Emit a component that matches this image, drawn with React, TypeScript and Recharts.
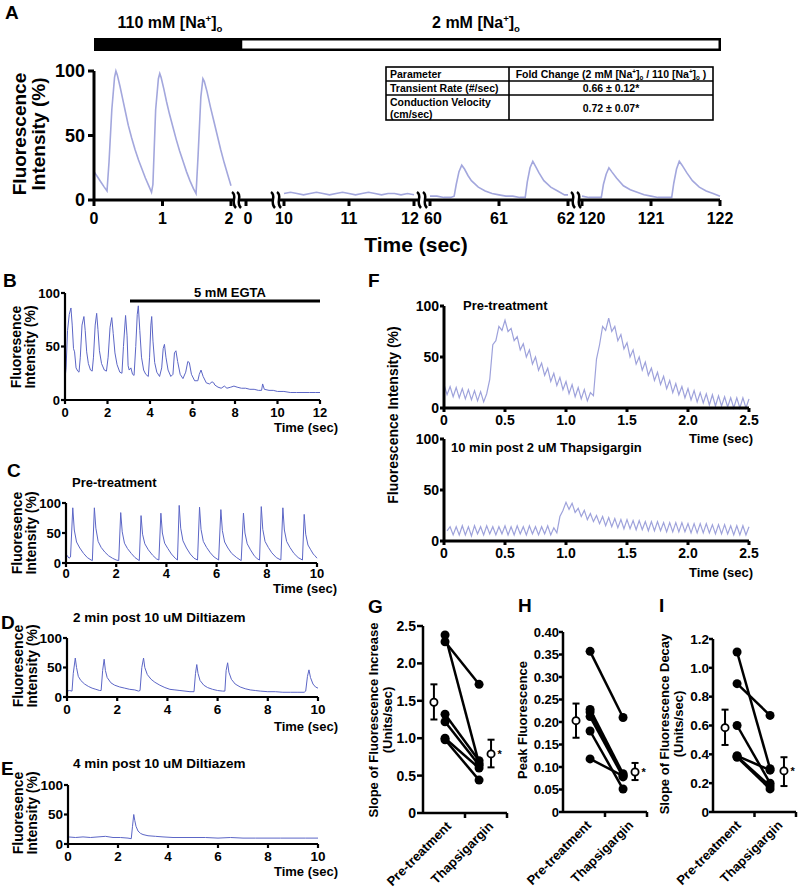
import React from "react"
import {
  LineChart,
  Line,
  XAxis,
  YAxis,
  ComposedChart,
  Scatter,
  ErrorBar,
  LabelList,
} from "recharts"

const W = 800
const H = 889
const FONT = "'Liberation Sans', Arial, Helvetica, sans-serif"
const TRACE_A = "#a3a7dd"
const TRACE_F = "#9ea2db"
const TRACE = "#5c66c6"

type Pt = [number, number]

// ---- panel A: [time (s), fluorescence %] per recording window
const aSeg0: Pt[] = [
  [0, 22], [0.05, 18], [0.1, 14], [0.15, 10], [0.19, 7], [0.22, 30], [0.26, 70], [0.3, 95],
  [0.32, 100], [0.34, 97], [0.38, 88], [0.42, 78], [0.46, 68], [0.5, 58], [0.55, 48], [0.6, 39],
  [0.65, 31], [0.7, 24], [0.75, 17], [0.8, 11], [0.84, 6], [0.86, 12], [0.9, 70], [0.94, 94],
  [0.96, 98], [0.98, 95], [1.02, 86], [1.06, 76], [1.1, 67], [1.15, 57], [1.2, 47], [1.25, 38],
  [1.3, 30], [1.35, 22], [1.4, 15], [1.45, 9], [1.49, 5], [1.52, 35], [1.56, 80], [1.59, 94],
  [1.61, 92], [1.65, 84], [1.7, 72], [1.75, 61], [1.8, 50], [1.85, 39], [1.9, 29], [1.95, 20], [2, 11],
]
const aSeg1: Pt[] = [
  [10, 5], [10.1, 6], [10.2, 5], [10.3, 4], [10.4, 5], [10.5, 6], [10.6, 5], [10.7, 4], [10.8, 5],
  [10.9, 6], [11, 5], [11.1, 4], [11.2, 5], [11.3, 6], [11.4, 5], [11.5, 4], [11.6, 5], [11.7, 5],
  [11.8, 4], [11.9, 5], [12, 4],
]
const aSeg2: Pt[] = [
  [60, 3], [60.1, 3], [60.2, 2], [60.3, 2], [60.35, 3], [60.38, 12], [60.42, 22], [60.46, 27],
  [60.5, 24], [60.55, 19], [60.6, 15], [60.7, 10], [60.8, 7], [60.9, 5], [61, 4], [61.1, 3],
  [61.2, 3], [61.3, 2], [61.38, 2], [61.41, 14], [61.45, 25], [61.49, 30], [61.53, 26], [61.58, 21],
  [61.65, 15], [61.75, 10], [61.85, 7], [61.95, 4], [62, 4],
]
const aSeg3: Pt[] = [
  [120, 3], [120.1, 2], [120.2, 2], [120.28, 2], [120.31, 12], [120.35, 20], [120.39, 25], [120.43, 22],
  [120.5, 17], [120.6, 11], [120.7, 8], [120.8, 6], [120.9, 4], [121, 3], [121.1, 2], [121.2, 2],
  [121.3, 2], [121.33, 13], [121.37, 24], [121.41, 30], [121.45, 27], [121.52, 21], [121.6, 15],
  [121.7, 10], [121.8, 7], [121.9, 5], [122, 3],
]
const aTickLabels = [0, 1, 2, 0, 10, 11, 12, 60, 61, 62, 120, 121, 122]
const aTickSeg = [0, 0, 0, -1, 1, 1, 1, 2, 2, 2, 3, 3, 3]

// ---- panel B (EGTA)
const bTrace: Pt[] = [
  [0, 20], [0.05, 30], [0.12, 65], [0.2, 80], [0.28, 86], [0.34, 70], [0.4, 48], [0.45, 45], [0.52, 30],
  [0.6, 27], [0.66, 26], [0.72, 40], [0.8, 70], [0.89, 78], [0.95, 65], [1.02, 45], [1.1, 34], [1.2, 28],
  [1.28, 27], [1.34, 40], [1.42, 70], [1.49, 81], [1.55, 66], [1.62, 46], [1.72, 34], [1.85, 28],
  [1.95, 27], [2.03, 40], [2.12, 68], [2.2, 77], [2.27, 62], [2.35, 44], [2.45, 33], [2.58, 26],
  [2.68, 25], [2.75, 50], [2.85, 79], [2.92, 60], [2.97, 32], [3.02, 28], [3.1, 30], [3.18, 24],
  [3.25, 23], [3.33, 50], [3.4, 80], [3.45, 88], [3.52, 65], [3.6, 40], [3.7, 28], [3.8, 24],
  [3.92, 22], [3.98, 40], [4.04, 70], [4.08, 78], [4.14, 55], [4.22, 35], [4.32, 26], [4.45, 22],
  [4.55, 30], [4.62, 48], [4.68, 52], [4.75, 40], [4.85, 28], [4.98, 22], [5.08, 24], [5.15, 44],
  [5.22, 46], [5.3, 36], [5.42, 24], [5.55, 20], [5.68, 26], [5.78, 36], [5.85, 35], [5.95, 24],
  [6.1, 18], [6.25, 18], [6.32, 24], [6.4, 28], [6.5, 22], [6.65, 16], [6.8, 15], [6.92, 17],
  [7, 16], [7.05, 14], [7.2, 12], [7.35, 11], [7.5, 13], [7.62, 11], [7.8, 12], [7.95, 13],
  [8.1, 12], [8.3, 11], [8.5, 11], [8.7, 10], [8.9, 10], [9.1, 9], [9.25, 9], [9.3, 15], [9.38, 10],
  [9.6, 9], [9.8, 9], [10, 8], [10.3, 8], [10.6, 7], [10.9, 7], [11.2, 7], [11.5, 7], [11.8, 7], [12, 7],
]

// ---- panel C (pre-treatment)
const cTrace: Pt[] = [
  [0, 15], [0.05, 12], [0.12, 8], [0.18, 10], [0.27, 92], [0.33, 55], [0.42, 35], [0.55, 25], [0.7, 16],
  [0.85, 9], [1, 5], [1.05, 4], [1.13, 92], [1.19, 58], [1.28, 36], [1.4, 26], [1.55, 18], [1.7, 12],
  [1.85, 8], [2, 5], [2.1, 4], [2.18, 84], [2.24, 52], [2.33, 33], [2.45, 24], [2.6, 16], [2.75, 9],
  [2.92, 4], [2.99, 79], [3.05, 48], [3.14, 32], [3.28, 22], [3.45, 13], [3.6, 7], [3.7, 5],
  [3.78, 83], [3.84, 50], [3.93, 33], [4.06, 24], [4.2, 15], [4.35, 8], [4.44, 5], [4.51, 96],
  [4.57, 58], [4.66, 37], [4.8, 25], [4.95, 15], [5.1, 8], [5.24, 5], [5.32, 93], [5.38, 56],
  [5.47, 36], [5.6, 26], [5.75, 17], [5.9, 10], [6.08, 5], [6.17, 89], [6.23, 54], [6.32, 35],
  [6.45, 25], [6.6, 16], [6.8, 9], [6.98, 4], [7.07, 83], [7.13, 50], [7.22, 32], [7.35, 22],
  [7.5, 12], [7.62, 7], [7.71, 5], [7.78, 94], [7.84, 56], [7.93, 36], [8.06, 26], [8.2, 17],
  [8.38, 9], [8.56, 5], [8.64, 92], [8.7, 55], [8.79, 36], [8.92, 26], [9.08, 16], [9.25, 9],
  [9.42, 5], [9.49, 81], [9.55, 48], [9.64, 30], [9.75, 22], [9.85, 15], [9.92, 12], [10, 8],
]

// ---- panel D (2 min diltiazem)
const dTrace: Pt[] = [
  [0, 10], [0.1, 11], [0.2, 10], [0.25, 40], [0.33, 66], [0.38, 50], [0.45, 35], [0.55, 28], [0.7, 22],
  [0.85, 18], [1, 15], [1.15, 13], [1.3, 11], [1.36, 11], [1.42, 45], [1.48, 64], [1.53, 45], [1.6, 33],
  [1.75, 24], [1.9, 20], [2.1, 17], [2.3, 15], [2.5, 13], [2.7, 12], [2.85, 10], [2.91, 11], [2.98, 50],
  [3.05, 66], [3.1, 50], [3.2, 38], [3.35, 30], [3.5, 25], [3.7, 20], [3.9, 16], [4.1, 13], [4.3, 12],
  [4.5, 11], [4.7, 10], [4.9, 9], [5.06, 9], [5.12, 40], [5.17, 55], [5.22, 40], [5.3, 28], [5.45, 20],
  [5.6, 16], [5.8, 13], [6, 11], [6.2, 10], [6.29, 10], [6.34, 45], [6.4, 58], [6.45, 42], [6.55, 30],
  [6.7, 22], [6.9, 17], [7.1, 14], [7.3, 12], [7.5, 11], [7.7, 10], [8, 9], [8.3, 9], [8.6, 8],
  [8.9, 8], [9.2, 8], [9.45, 8], [9.51, 10], [9.58, 35], [9.64, 46], [9.7, 33], [9.8, 22], [9.9, 17], [10, 15],
]

// ---- panel E (4 min diltiazem)
const eTrace: Pt[] = [
  [0, 12], [0.3, 11], [0.6, 12], [0.9, 11], [1.2, 12], [1.5, 13], [1.8, 11], [2.1, 11], [2.4, 10],
  [2.53, 9], [2.58, 30], [2.63, 50], [2.67, 40], [2.72, 30], [2.8, 22], [2.9, 18], [3, 16], [3.2, 14],
  [3.5, 13], [3.8, 12], [4.2, 11], [4.6, 11], [5, 11], [5.5, 11], [6, 10], [6.5, 11], [7, 10],
  [7.5, 10], [8, 10], [8.5, 10], [9, 10], [9.5, 10], [10, 10],
]

// ---- panel F, sampled every 25 ms
const fStep = 0.025
const fPreStart = 0
const fPre = [
  23, 13, 21, 11, 20, 10, 19, 9, 18, 8, 17, 7, 16, 6, 14, 28, 62, 66, 80, 76, 86, 75, 78, 66, 70, 57,
  63, 50, 57, 43, 50, 37, 44, 32, 39, 26, 34, 22, 30, 18, 26, 14, 23, 11, 20, 9, 18, 7, 15, 12, 48,
  62, 80, 76, 88, 75, 80, 66, 72, 58, 64, 50, 57, 43, 50, 37, 45, 32, 39, 27, 35, 23, 31, 19, 27,
  15, 24, 13, 21, 10, 19, 8, 17, 6, 15, 5, 14, 3, 13, 2, 12, 2, 11, 1, 10, 0, 10, 0, 10, 0, 9,
]
const fThapStart = 0.025
const fThap = [
  10, 14, 6, 14, 6, 15, 6, 14, 5, 15, 7, 14, 6, 15, 7, 14, 6, 14, 7, 15, 6, 14, 6, 15, 7, 14, 6, 15,
  7, 14, 6, 14, 7, 15, 6, 13, 8, 24, 30, 38, 31, 37, 28, 32, 24, 30, 21, 27, 19, 25, 17, 24, 15, 23,
  14, 22, 13, 21, 12, 21, 12, 20, 11, 20, 11, 19, 10, 19, 10, 19, 10, 18, 9, 18, 9, 18, 9, 18, 9, 17,
  8, 17, 8, 17, 8, 17, 8, 16, 7, 16, 7, 16, 7, 15, 6, 15, 6, 15, 6, 14,
]

// ---- panels G, H, I (paired pre-treatment / thapsigargin)
const catLabels = ["Pre-treatment", "Thapsigargin"]
const gPre = [2.38, 2.29, 1.32, 1.22, 1.0, 0.98]
const gThap = [0.66, 1.72, 0.7, 0.64, 0.6, 0.44]
const gMean = [1.48, 0.79]
const gLow = [1.25, 0.61]
const gHigh = [1.72, 0.98]

const hPre = [0.357, 0.228, 0.222, 0.212, 0.18, 0.118]
const hThap = [0.21, 0.085, 0.082, 0.078, 0.051, 0.08]
const hMean = [0.203, 0.089]
const hLow = [0.165, 0.071]
const hHigh = [0.241, 0.109]

const iPre = [1.11, 0.89, 0.6, 0.39, 0.385, 0.38]
const iThap = [0.3, 0.67, 0.2, 0.29, 0.18, 0.16]
const iMean = [0.585, 0.285]
const iLow = [0.465, 0.18]
const iHigh = [0.71, 0.38]

// ---------------------------------------------------------------------------

// plot rectangle -> chart margin (axes take 1px)
const mg = (l: number, t: number, r: number, b: number) => ({
  left: l - 1,
  top: t,
  right: W - r,
  bottom: H - b - 1,
})
const tickStyle = (s: number) => ({ fontSize: s, fontWeight: 700, fill: "#000", fontFamily: FONT })
const stroke = (w: number) => ({ stroke: "#000", strokeWidth: w })

function Frame({ children }: { children: React.ReactNode }) {
  return <div style={{ position: "absolute", left: 0, top: 0 }}>{children}</div>
}

const rows = (pts: Pt[]) => pts.map(([t, v]) => ({ x: t, v }))
const sampled = (vals: number[], start: number) =>
  vals.map((v, i) => ({ x: +(start + i * fStep).toFixed(3), v }))

// A: each window is squeezed onto its own stretch of the broken axis
const aMap = [
  { t0: 0, p0: 0, k: 68.5 },
  { t0: 10, p0: 190, k: 65 },
  { t0: 60, p0: 336, k: 69 },
  { t0: 120, p0: 488, k: 69 },
]
const aPos = (seg: number, t: number) => (seg < 0 ? 152 : aMap[seg].p0 + (t - aMap[seg].t0) * aMap[seg].k)
const aTicks = aTickLabels.map((t, i) => aPos(aTickSeg[i], t))
const aDx: Record<number, number> = { 2: -2, 3: 2, 6: -4, 7: 3, 9: -2, 10: 10 }

function ATick(props: any) {
  const { x, y, payload } = props
  const i = aTicks.findIndex((p) => Math.abs(p - payload.value) < 0.01)
  return (
    <text x={x + (aDx[i] || 0)} y={y} dy="0.71em" textAnchor="middle" {...tickStyle(16)}>
      {aTickLabels[i]}
    </text>
  )
}

function PanelA() {
  const segs = [aSeg0, aSeg1, aSeg2, aSeg3]
  return (
    <Frame>
      <LineChart width={W} height={H} margin={mg(94, 71, 720, 200)}>
        <XAxis
          type="number"
          dataKey="x"
          domain={[0, 626]}
          ticks={aTicks}
          interval={0}
          height={1}
          tick={<ATick />}
          axisLine={stroke(3)}
          tickLine={stroke(3)}
          tickSize={6}
          tickMargin={7}
        />
        <YAxis
          type="number"
          domain={[0, 100]}
          ticks={[0, 50, 100]}
          interval={0}
          width={1}
          tick={tickStyle(18)}
          axisLine={stroke(3)}
          tickLine={stroke(3)}
          tickSize={6}
          tickMargin={3}
        />
        {segs.map((s, i) => (
          <Line
            key={i}
            data={s.map(([t, v]) => ({ x: aPos(i, t), v }))}
            dataKey="v"
            stroke={TRACE_A}
            strokeWidth={1.6}
            dot={false}
            isAnimationActive={false}
          />
        ))}
      </LineChart>
    </Frame>
  )
}

type TraceProps = {
  rect: [number, number, number, number]
  data: { x: number; v: number }[]
  xMax: number
  xTicks: number[]
  fmt?: (v: number) => string
  color: string
  sw: number
  fs: number
  aw: number
  gap: number
}

function TracePanel({ rect, data, xMax, xTicks, fmt, color, sw, fs, aw, gap }: TraceProps) {
  return (
    <Frame>
      <LineChart width={W} height={H} margin={mg(...rect)}>
        <XAxis
          type="number"
          dataKey="x"
          domain={[0, xMax]}
          ticks={xTicks}
          interval={0}
          height={1}
          tick={tickStyle(fs)}
          tickFormatter={fmt}
          axisLine={stroke(aw)}
          tickLine={stroke(aw)}
          tickSize={4}
          tickMargin={gap}
        />
        <YAxis
          type="number"
          domain={[0, 100]}
          ticks={[0, 50, 100]}
          interval={0}
          width={1}
          tick={tickStyle(fs)}
          axisLine={stroke(aw)}
          tickLine={stroke(aw)}
          tickSize={4}
          tickMargin={1}
        />
        <Line data={data} dataKey="v" stroke={color} strokeWidth={sw} dot={false} isAnimationActive={false} />
      </LineChart>
    </Frame>
  )
}

function CatTick(props: any) {
  const { x, y, payload } = props
  const v = payload.value
  if (v === 2 || v === 4) return <line x1={x} y1={y} x2={x} y2={y + 5} {...stroke(2.5)} />
  const ax = x + 8
  const ay = y + 14
  return (
    <text x={ax} y={ay} textAnchor="end" transform={`rotate(-45 ${ax} ${ay})`} {...tickStyle(13)}>
      {catLabels[v === 1 ? 0 : 1]}
    </text>
  )
}

function OpenDot(p: any) {
  return <circle cx={p.cx} cy={p.cy} r={3.6} fill="#fff" stroke="#000" strokeWidth={1.8} />
}

type PairProps = {
  rect: [number, number, number, number]
  pre: number[]
  thap: number[]
  mean: number[]
  low: number[]
  high: number[]
  xs: { pre: number; thap: number; mean: number[] }
  yMax: number
  yTicks: number[]
  digits: number
  fs: number
  ts: number
  tm: number
}

function PairPanel({ rect, pre, thap, mean, low, high, xs, yMax, yTicks, digits, fs, ts, tm }: PairProps) {
  const means = mean.map((m, i) => ({
    x: xs.mean[i],
    y: m,
    err: [m - low[i], high[i] - m],
    star: i === 1 ? "*" : "",
  }))
  return (
    <Frame>
      <ComposedChart width={W} height={H} margin={mg(...rect)}>
        <XAxis
          type="number"
          dataKey="x"
          domain={[0, 4]}
          ticks={[1, 2, 3, 4]}
          interval={0}
          height={1}
          tick={<CatTick />}
          axisLine={stroke(2.5)}
          tickLine={false}
          tickSize={0}
          tickMargin={0}
        />
        <YAxis
          type="number"
          dataKey="y"
          domain={[0, yMax]}
          ticks={yTicks}
          interval={0}
          width={1}
          tick={tickStyle(fs)}
          tickFormatter={(v: number) => (v === 0 ? "0" : v.toFixed(digits))}
          axisLine={stroke(2.5)}
          tickLine={stroke(2.5)}
          tickSize={ts}
          tickMargin={tm}
        />
        {pre.map((p, i) => (
          <Line
            key={i}
            data={[
              { x: xs.pre, y: p },
              { x: xs.thap, y: thap[i] },
            ]}
            dataKey="y"
            stroke="#000"
            strokeWidth={2.5}
            dot={{ r: 4.5, fill: "#000", stroke: "#000", strokeWidth: 0 }}
            isAnimationActive={false}
          />
        ))}
        <Scatter data={means} dataKey="y" shape={<OpenDot />} isAnimationActive={false}>
          <ErrorBar dataKey="err" direction="y" width={3.5} stroke="#000" strokeWidth={2} />
          <LabelList dataKey="star" position="right" offset={2} style={{ fontSize: 11, fontWeight: 700, fill: "#000" }} />
        </Scatter>
      </ComposedChart>
    </Frame>
  )
}

function T({
  x,
  y,
  s = 13,
  a = "start",
  r,
  children,
}: {
  x: number
  y: number
  s?: number
  a?: "start" | "middle" | "end"
  r?: number
  children: React.ReactNode
}) {
  return (
    <text
      x={x}
      y={y}
      fontSize={s}
      fontWeight={700}
      textAnchor={a}
      fontFamily={FONT}
      fill="#000"
      transform={r ? `rotate(${r} ${x} ${y})` : undefined}
    >
      {children}
    </text>
  )
}

const Na = ({ s }: { s: number }) => (
  <>
    [Na
    <tspan dy={-s * 0.38} fontSize={s * 0.6}>+</tspan>
    <tspan dy={s * 0.38}>]</tspan>
    <tspan dy={s * 0.22} fontSize={s * 0.6}>o</tspan>
    <tspan dy={-s * 0.22}> </tspan>
  </>
)

function Squiggle({ cx, cy }: { cx: number; cy: number }) {
  return (
    <path
      d={`M ${cx - 2} ${cy - 8} C ${cx + 4} ${cy - 4}, ${cx - 4} ${cy + 2}, ${cx + 2} ${cy + 8}`}
      fill="none"
      stroke="#000"
      strokeWidth={2.5}
    />
  )
}

function Overlay() {
  const breaks = [
    [234, 239],
    [273, 279],
    [419, 425],
    [573, 579],
  ]
  return (
    <svg width={W} height={H} style={{ position: "absolute", left: 0, top: 0, pointerEvents: "none" }}>
      {/* A: sodium bar */}
      <rect x={94} y={38} width={147} height={13} fill="#000" />
      <rect x={241} y={39.25} width={478.75} height={10.5} fill="#fff" stroke="#000" strokeWidth={2.5} />
      <T x={170} y={28} s={16} a="middle">
        110 mM <Na s={16} />
      </T>
      <T x={476} y={28} s={16} a="middle">
        2 mM <Na s={16} />
      </T>
      {/* A: broken axis marks */}
      {breaks.map(([a, b], i) => (
        <g key={i}>
          <rect x={a + 1} y={197} width={b - a - 2} height={6} fill="#fff" />
          <Squiggle cx={a} cy={200} />
          <Squiggle cx={b} cy={200} />
        </g>
      ))}
      {/* A: table */}
      <g>
        <rect x={386} y={67} width={327} height={53} fill="#fff" stroke="#000" strokeWidth={1.6} />
        <line x1={386} y1={81} x2={713} y2={81} {...stroke(1.6)} />
        <line x1={386} y1={95} x2={713} y2={95} {...stroke(1.6)} />
        <line x1={509} y1={67} x2={509} y2={120} {...stroke(1.6)} />
        <T x={390} y={78} s={10.5}>Parameter</T>
        <T x={611} y={78} s={10.5} a="middle">
          Fold Change (2 mM <Na s={10.5} />/ 110 <Na s={10.5} />)
        </T>
        <T x={390} y={92} s={10.5}>Transient Rate (#/sec)</T>
        <T x={611} y={92} s={10.5} a="middle">0.66 ± 0.12*</T>
        <T x={390} y={106} s={10.5}>Conduction Velocity</T>
        <T x={390} y={118} s={10.5}>(cm/sec)</T>
        <T x={611} y={112} s={10.5} a="middle">0.72 ± 0.07*</T>
      </g>
      <T x={5} y={19} s={19}>A</T>
      <T x={26} y={134} s={19} a="middle" r={-90}>Fluorescence</T>
      <T x={45} y={134} s={19} a="middle" r={-90}>Intensity (%)</T>
      <T x={416} y={252} s={21} a="middle">Time (sec)</T>

      {/* B */}
      <T x={3} y={287} s={19}>B</T>
      <T x={21} y={347} s={14} a="middle" r={-90}>Fluoresence</T>
      <T x={35} y={347} s={14} a="middle" r={-90}>Intensity (%)</T>
      <T x={230} y={297} s={13} a="middle">5 mM EGTA</T>
      <line x1={130} y1={301} x2={320} y2={301} {...stroke(3)} />
      <T x={338} y={432} s={13} a="end">Time (sec)</T>

      {/* C */}
      <T x={7} y={477} s={19}>C</T>
      <T x={72} y={487} s={13}>Pre-treatment</T>
      <T x={22} y={533} s={14} a="middle" r={-90}>Fluoresence</T>
      <T x={36} y={533} s={14} a="middle" r={-90}>Intensity (%)</T>
      <T x={337} y={593} s={13} a="end">Time (sec)</T>

      {/* D */}
      <T x={1} y={629} s={19}>D</T>
      <T x={73} y={622} s={13.5}>2 min post 10 uM Diltiazem</T>
      <T x={23} y={666} s={14} a="middle" r={-90}>Fluoresence</T>
      <T x={37} y={666} s={14} a="middle" r={-90}>Intensity (%)</T>
      <T x={338} y={731} s={13} a="end">Time (sec)</T>

      {/* E */}
      <T x={1} y={775} s={19}>E</T>
      <T x={73} y={768} s={13.5}>4 min post 10 uM Diltiazem</T>
      <T x={23} y={813} s={14} a="middle" r={-90}>Fluoresence</T>
      <T x={37} y={813} s={14} a="middle" r={-90}>Intensity (%)</T>
      <T x={338} y={876} s={13} a="end">Time (sec)</T>

      {/* F */}
      <T x={368} y={287} s={19}>F</T>
      <T x={463} y={310} s={13}>Pre-treatment</T>
      <T x={451} y={452} s={13}>10 min post 2 uM Thapsigargin</T>
      <T x={753} y={443} s={13} a="end">Time (sec)</T>
      <T x={753} y={577} s={13} a="end">Time (sec)</T>
      <T x={398} y={415} s={14} a="middle" r={-90}>Fluorescence Intensity (%)</T>

      {/* G H I */}
      <T x={368} y={613} s={19}>G</T>
      <T x={378} y={720} s={13} a="middle" r={-90}>Slope of Fluorescence Increase</T>
      <T x={392} y={720} s={13} a="middle" r={-90}>(Units/sec)</T>
      <T x={518} y={612} s={19}>H</T>
      <T x={527} y={720} s={13} a="middle" r={-90}>Peak Fluorescence</T>
      <T x={659} y={612} s={19}>I</T>
      <T x={669} y={724} s={13} a="middle" r={-90}>Slope of Fluorescence Decay</T>
      <T x={683} y={724} s={13} a="middle" r={-90}>(Units/sec)</T>
    </svg>
  )
}

export default function App() {
  const even10 = [0, 2, 4, 6, 8, 10]
  const fTicks = [0, 0.5, 1, 1.5, 2, 2.5]
  const fFmt = (v: number) => (v === 0 ? "0" : v.toFixed(1))
  return (
    <div style={{ position: "relative", width: W, height: H, fontFamily: FONT, background: "#fff" }}>
      <style>{`body{margin:0}`}</style>
      <PanelA />
      <TracePanel rect={[65, 293, 320, 400]} data={rows(bTrace)} xMax={12} xTicks={[0, 2, 4, 6, 8, 10, 12]}
        color={TRACE} sw={1} fs={13} aw={2.2} gap={4} />
      <TracePanel rect={[66, 503, 317, 563]} data={rows(cTrace)} xMax={10} xTicks={even10}
        color={TRACE} sw={1} fs={13} aw={2.2} gap={2} />
      <TracePanel rect={[67, 638, 318, 697]} data={rows(dTrace)} xMax={10} xTicks={even10}
        color={TRACE} sw={1} fs={13.5} aw={2.2} gap={3} />
      <TracePanel rect={[68, 785, 318, 844]} data={rows(eTrace)} xMax={10} xTicks={even10}
        color={TRACE} sw={1} fs={13.5} aw={2.2} gap={3} />
      <TracePanel rect={[444, 306, 749, 408]} data={sampled(fPre, fPreStart)} xMax={2.5} xTicks={fTicks}
        fmt={fFmt} color={TRACE_F} sw={1.2} fs={14} aw={3} gap={3} />
      <TracePanel rect={[444, 439, 749, 541]} data={sampled(fThap, fThapStart)} xMax={2.5} xTicks={fTicks}
        fmt={fFmt} color={TRACE_F} sw={1.2} fs={14} aw={3} gap={3} />
      <PairPanel rect={[423, 626, 507, 813]} pre={gPre} thap={gThap} mean={gMean} low={gLow} high={gHigh}
        xs={{ pre: 1.05, thap: 2.67, mean: [0.52, 3.24] }} yMax={2.5} yTicks={[0, 0.5, 1, 1.5, 2, 2.5]}
        digits={1} fs={14} ts={6} tm={1} />
      <PairPanel rect={[563, 632, 647, 812]} pre={hPre} thap={hThap} mean={hMean} low={hLow} high={hHigh}
        xs={{ pre: 1.29, thap: 2.86, mean: [0.62, 3.43] }} yMax={0.4}
        yTicks={[0, 0.05, 0.1, 0.15, 0.2, 0.25, 0.3, 0.35, 0.4]} digits={2} fs={13} ts={4} tm={0} />
      <PairPanel rect={[713, 639, 796, 812]} pre={iPre} thap={iThap} mean={iMean} low={iLow} high={iHigh}
        xs={{ pre: 1.16, thap: 2.75, mean: [0.58, 3.42] }} yMax={1.2} yTicks={[0, 0.2, 0.4, 0.6, 0.8, 1, 1.2]}
        digits={1} fs={13.5} ts={4} tm={0} />
      <Overlay />
    </div>
  )
}
